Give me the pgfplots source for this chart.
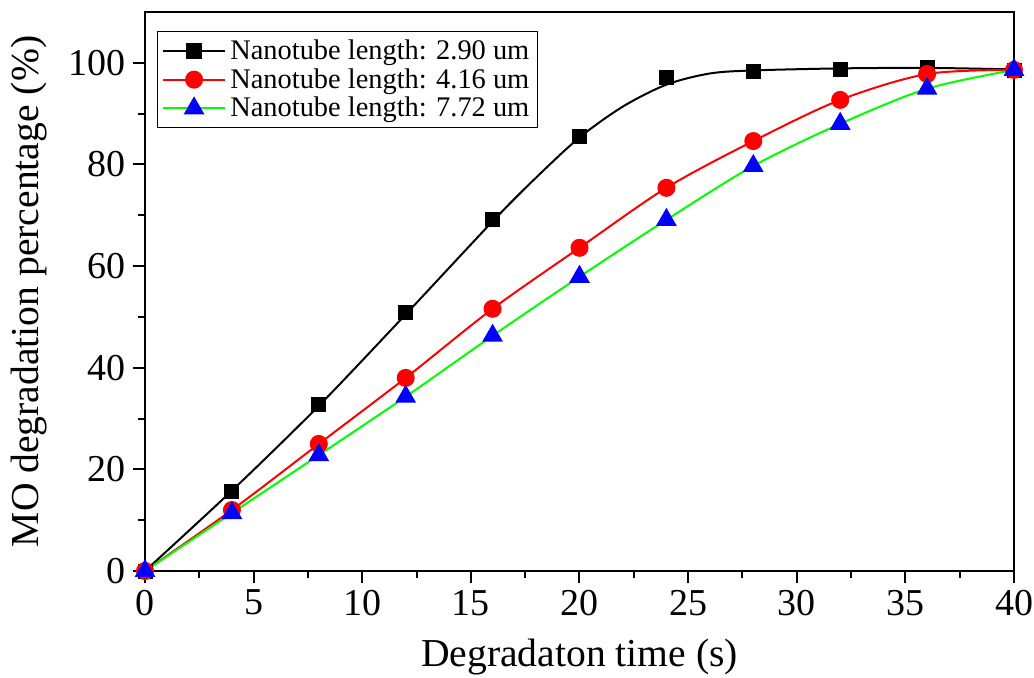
\documentclass[border=0pt]{standalone}
\usepackage{pgfplots}
\pgfplotsset{compat=1.18}
\usepackage{fontspec}
\setmainfont{Liberation Serif}
\begin{document}
\begin{tikzpicture}
\path[use as bounding box] (-72.5pt,-53.5pt) rectangle (444.5pt,285.5pt);
\begin{axis}[
  scale only axis,
  width=434.5pt, height=279.5pt,
  xmin=0, xmax=40, ymin=0, ymax=110,
  xtick={0,5,...,40}, ytick={0,20,...,100},
  minor x tick num=1, minor y tick num=1,
  axis line style={line width=1pt},
  tick align=outside,
  xtick pos=bottom, ytick pos=left,
  major tick length=6pt, minor tick length=3.5pt,
  every tick/.style={black, line width=1pt},
  /pgf/number format/assume math mode=true,
  ticklabel style={font=\fontsize{19}{22}\selectfont},
  xlabel={Degradaton time (s)},
  ylabel={MO degradation percentage (\%)},
  label style={font=\fontsize{19.8}{23}\selectfont},
  xlabel style={yshift=-5pt},
  ylabel style={yshift=4pt},
  legend style={at={(0.014,0.966)}, anchor=north west, draw=black, line width=0.6pt,
    font=\fontsize{14.2}{16}\selectfont, row sep=-1pt, inner sep=2pt},
  legend cell align=left,
  legend image code/.code={
    \draw[#1, mark repeat=2, mark phase=2] plot coordinates {(0cm,0cm) (0.55cm,0cm) (1.1cm,0cm)};
  },
]
% black
\addlegendimage{black, line width=1pt, mark=square*, mark size=3.5pt, mark options={solid, fill=black}}
\addlegendentry{Nanotube length: 2.90 um}
\addplot[black, line width=1pt, smooth, forget plot] coordinates {
(0,0) (4,15.8) (8,32.5) (12,50.5) (16,68.8) (18,77.4) (20,85.3) (22,91.4) (24,95.7) (26,97.9) (28,98.5) (32,98.9) (36,99.0) (40,98.7)};
\addplot[black, only marks, mark=square*, mark size=3.5pt, mark options={solid, fill=black}, forget plot] coordinates {
(0,0) (4,15.6) (8,32.7) (12,50.8) (16,69.1) (20,85.6) (24,97.2) (28,98.4) (32,98.8) (36,99.0) (40,98.6)};
% red
\addplot[red, line width=1pt, smooth, mark=*, mark size=4pt, mark options={fill=red}] coordinates {
(0,0) (4,12.0) (8,25.0) (12,38.0) (16,51.6) (20,63.6) (24,75.4) (28,84.6) (32,92.7) (36,97.8) (40,98.6)};
\addlegendentry{Nanotube length: 4.16 um}
% green/blue
\addplot[green, line width=1pt, smooth, mark=triangle*, mark size=5pt, mark options={fill=blue, draw=blue}] coordinates {
(0,0) (4,11.4) (8,22.8) (12,34.3) (16,46.3) (20,57.9) (24,69.1) (28,79.7) (32,88.0) (36,94.9) (40,98.6)};
\addlegendentry{Nanotube length: 7.72 um}
\end{axis}
\end{tikzpicture}
\end{document}
